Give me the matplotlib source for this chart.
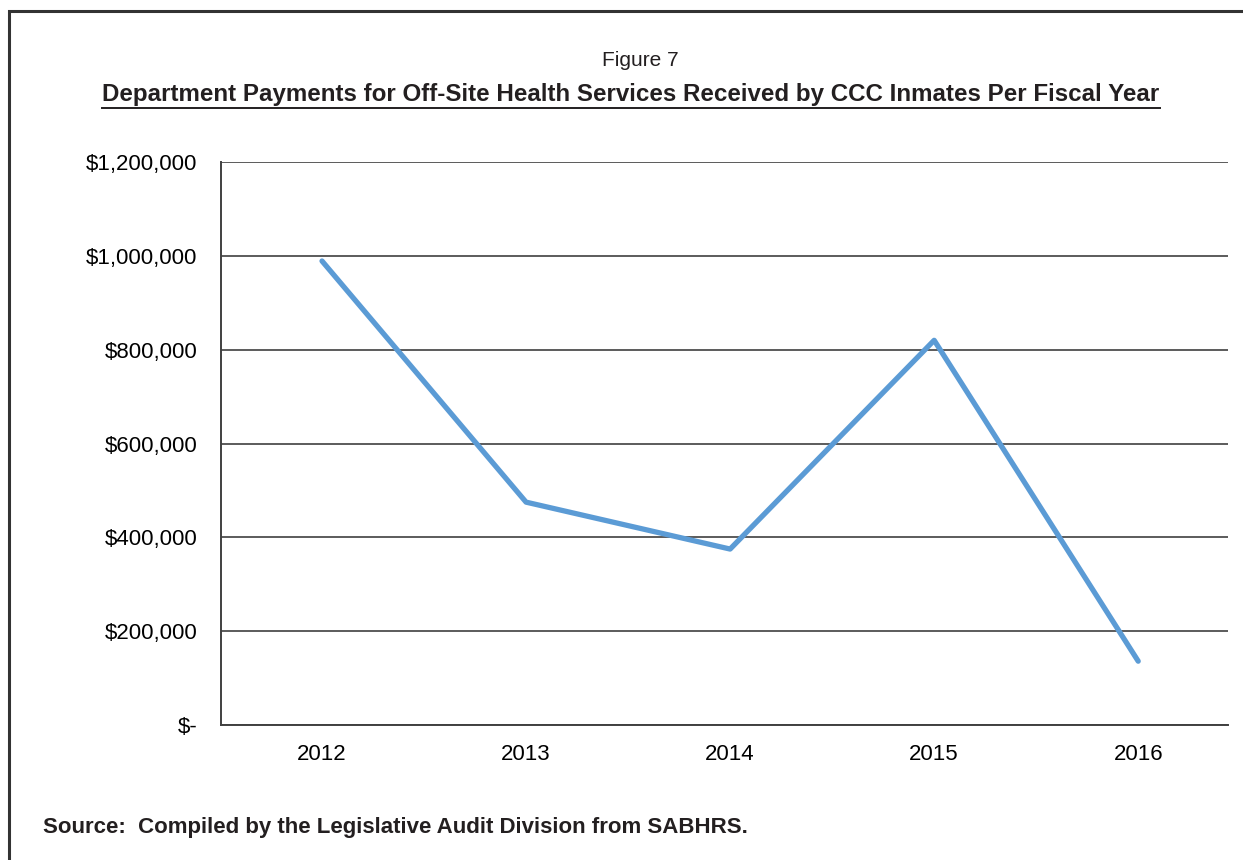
import matplotlib
matplotlib.use('Agg')
import matplotlib.pyplot as plt
from matplotlib.lines import Line2D
from matplotlib.patches import Rectangle
from matplotlib.ticker import FuncFormatter

# 연도별 지급액
years = ['2012', '2013', '2014', '2015', '2016']
payments = [989000, 475000, 375000, 820000, 136000]

y_ticks = [0, 200000, 400000, 600000, 800000, 1000000, 1200000]

plt.rcParams['font.family'] = ['Liberation Sans', 'DejaVu Sans']

W, H = 1243, 860
fig = plt.figure(figsize=(W / 100, H / 100), dpi=100)

# 바깥 테두리 (오른쪽/아래는 잘려 있음)
fig.patches.append(Rectangle((9 / W, -0.05), 1.2, (H - 11) / H + 0.05,
                             transform=fig.transFigure, fill=False,
                             edgecolor='#333333', linewidth=2.2))

ax = fig.add_axes([221 / W, 1 - 725 / H, (1228 - 221) / W, (725 - 162) / H])

x = list(range(len(years)))
ax.plot(x, payments, color='#5B9BD5', linewidth=3.8,
        solid_capstyle='round', solid_joinstyle='round', zorder=3)

ax.set_xlim(-0.495, 4.44)
ax.set_ylim(0, 1200000)
ax.set_xticks(x)
ax.set_xticklabels(years)
ax.set_yticks(y_ticks)


def money(v, pos):
    if v == 0:
        return '$-'
    return '${:,.0f}'.format(v)


ax.yaxis.set_major_formatter(FuncFormatter(money))
ax.tick_params(length=0, labelsize=16, colors='black')
ax.tick_params(axis='y', pad=17)
ax.tick_params(axis='x', pad=14)

ax.grid(axis='y', color='#404040', linewidth=1.2)
ax.set_axisbelow(True)
for side in ['top', 'right']:
    ax.spines[side].set_visible(False)
for side in ['left', 'bottom']:
    ax.spines[side].set_color('#404040')
    ax.spines[side].set_linewidth(1.4)

# 제목
fig.text(640 / W, 1 - 60 / H, 'Figure 7', ha='center', va='center',
         fontsize=15, color='#231f20')
title = fig.text(631 / W, 1 - 95 / H,
                 'Department Payments for Off-Site Health Services Received by CCC Inmates Per Fiscal Year',
                 ha='center', va='center', fontsize=17.4, fontweight='bold',
                 color='#231f20')

# 출처
fig.text(43 / W, 1 - 828 / H,
         'Source:  Compiled by the Legislative Audit Division from SABHRS.',
         ha='left', va='center', fontsize=16, fontweight='bold',
         color='#231f20')

# 제목 밑줄
fig.canvas.draw()
bb = title.get_window_extent()
uy = 1 - 108 / H
fig.lines.append(Line2D([bb.x0 / W, bb.x1 / W], [uy, uy], transform=fig.transFigure,
                        color='#231f20', linewidth=1.4))

plt.savefig('out.png', dpi=100)
